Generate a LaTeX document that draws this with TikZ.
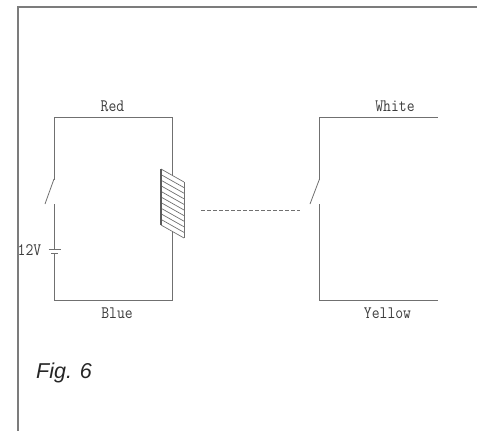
\documentclass[tikz,border=0pt]{standalone}
\usepackage{fontspec}
\setmainfont{Liberation Sans}
\newcommand{\narrowlabel}[1]{\scalebox{0.87}[1]{#1}}
\definecolor{wire}{HTML}{707070}
\definecolor{framec}{HTML}{7C7C7C}
\definecolor{labelc}{HTML}{3C3C3C}
\tikzset{
  wireline/.style={draw=wire,line width=1pt,line cap=rect},
  thinline/.style={draw=wire,line width=0.8pt},
  framing/.style={draw=framec,line width=2.8pt},
  wirelabel/.style={text=labelc,inner sep=0pt,font=\ttfamily\fontsize{17.5}{18}\selectfont},
  figlabel/.style={text=black!85,inner sep=0pt,anchor=west,font=\itshape\fontsize{21.5}{24}\selectfont}
}
\begin{document}
\begin{tikzpicture}[x=1pt,y=-1pt]
\useasboundingbox (0,0) rectangle (477,431);
% frame
\coordinate (fb) at (18,431);
\coordinate (fc) at (18,7);
\coordinate (fr) at (477,7);
\draw[framing] (fb) -- (fc) -- (fr);
% left circuit coordinates
\coordinate (sw1) at (54,179);
\coordinate (sw1b) at (45,204);
\coordinate (sw1l) at (54,204);
\coordinate (tl) at (54,117.5);
\coordinate (tr) at (172.5,117.5);
\coordinate (br) at (172.5,300.5);
\coordinate (bl) at (54,300.5);
\coordinate (ct) at (172.5,175);
\coordinate (cb) at (172.5,232);
\coordinate (b1) at (54,249);
\coordinate (b2) at (54,253.5);
\draw[wireline] (sw1) -- (tl) -- (tr) -- (ct);
\draw[wireline] (cb) -- (br) -- (bl) -- (b2);
\draw[wireline] (b1) -- (sw1l);
\draw[thinline] (sw1) -- (sw1b);
\draw[thinline] (48.5,249) -- (61,249);
\draw[thinline] (51,253.5) -- (58,253.5);
% coil
\foreach \i in {0,...,10}{
  \draw[draw=wire,line width=0.7pt] (161,{169+5.6*\i}) -- (184,{182+5.6*\i});
}
\draw[draw=wire!80!black,line width=1.1pt] (161,169) -- (161,225);
\draw[draw=wire,line width=0.8pt] (184,182) -- (184,238);
% link
\coordinate (d1) at (201,210.5);
\coordinate (d2) at (300,210.5);
\draw[draw=wire,line width=0.9pt,dash pattern=on 4pt off 2pt] (d1) -- (d2);
% right circuit
\coordinate (sw2) at (319.5,179);
\coordinate (sw2b) at (310,204);
\coordinate (sw2l) at (319.5,204);
\coordinate (rtl) at (319.5,117.5);
\coordinate (rtr) at (437,117.5);
\coordinate (rbl) at (319.5,300.5);
\coordinate (rbr) at (437,300.5);
\draw[wireline] (sw2) -- (rtl) -- (rtr);
\draw[wireline] (sw2l) -- (rbl) -- (rbr);
\draw[thinline] (sw2) -- (sw2b);
% labels
\node[wirelabel] (red) at (112.5,106.5) {\narrowlabel{Red}};
\node[wirelabel] (blue) at (117,313.5) {\narrowlabel{Blue}};
\node[wirelabel] (white) at (395,106.5) {\narrowlabel{White}};
\node[wirelabel] (yellow) at (387.5,313.5) {\narrowlabel{Yellow}};
\node[wirelabel] (volt) at (29.5,250) {\narrowlabel{12V}};
\node[figlabel] (fig) at (36,373) {Fig. 6};
\end{tikzpicture}
\end{document}
